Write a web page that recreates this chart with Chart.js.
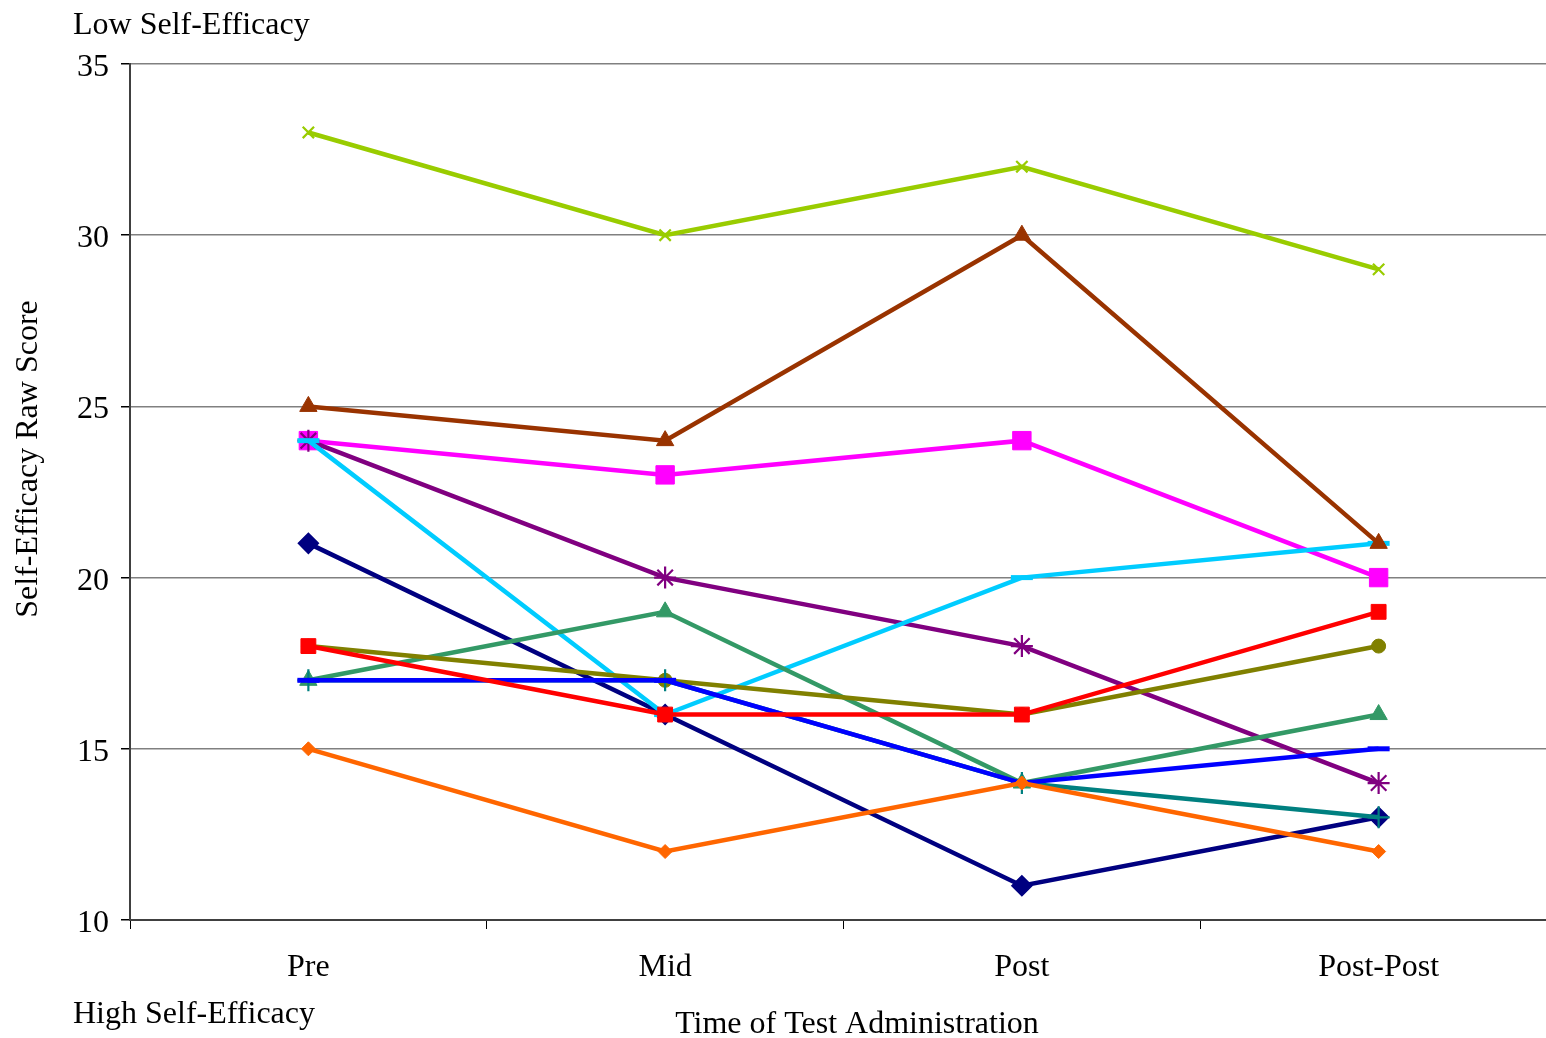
<!DOCTYPE html>
<html>
<head>
<meta charset="utf-8">
<title>Self-Efficacy Raw Score by Time of Test Administration</title>
<script src="https://cdn.jsdelivr.net/npm/chart.js@4/dist/chart.umd.min.js"></script>
<style>
  html, body { margin: 0; padding: 0; background: #ffffff; overflow: hidden; }
  #wrap { width: 1573px; height: 1038px; }
  #chart { display: block; }
</style>
</head>
<body>
<div id="wrap"><canvas id="chart" width="1573" height="1038" style="width:1573px;height:1038px"></canvas></div>
<script>
// Test administrations
const categories = ['Pre', 'Mid', 'Post', 'Post-Post'];

// Raw self-efficacy scores, one array per participant
const navyScores        = [21, 16, 11, 13];
const magentaScores     = [24, 23, 24, 20];
const purpleScores      = [24, 20, 18, 14];
const cyanScores        = [24, 16, 20, 21];
const greenScores       = [17, 19, 14, 16];
const oliveScores       = [18, 17, 16, 18];
const tealScores        = [17, 17, 14, 13];
const blueScores        = [17, 17, 14, 15];
const redScores         = [18, 16, 16, 19];
const orangeScores      = [15, 12, 14, 12];
const brownScores       = [25, 24, 30, 21];
const yellowGreenScores = [33, 30, 32, 29];

// Y axis range and tick spacing
const yMin = 10;
const yMax = 35;
const yStep = 5;

const SERIF = '"Liberation Serif", "Times New Roman", serif';

// Series listed bottom-most first
const seriesList = [
  { data: navyScores,        color: '#000080', style: 'rectRot',  r: 10,  bw: 1.5 },
  { data: magentaScores,     color: '#FF00FF', style: 'rect',     r: 13,  bw: 1 },
  { data: purpleScores,      color: '#800080', style: 'star',     r: 11,  bw: 2.2 },
  { data: cyanScores,        color: '#00CCFF', style: 'line',     r: 11,  bw: 5 },
  { data: greenScores,       color: '#339966', style: 'triangle', r: 10,  bw: 1 },
  { data: oliveScores,       color: '#808000', style: 'circle',   r: 7,   bw: 1 },
  { data: tealScores,        color: '#008080', style: 'cross',    r: 11,  bw: 2.2 },
  { data: blueScores,        color: '#0000FF', style: 'line',     r: 11,  bw: 5 },
  { data: redScores,         color: '#FF0000', style: 'rect',     r: 10.5, bw: 1 },
  { data: orangeScores,      color: '#FF6600', style: 'rectRot',  r: 7,   bw: 1 },
  { data: brownScores,       color: '#993300', style: 'triangle', r: 10,  bw: 1 },
  { data: yellowGreenScores, color: '#99CC00', style: 'crossRot', r: 8,   bw: 2.2 }
];

const datasets = seriesList.map((s, i) => ({
  data: s.data,
  borderColor: s.color,
  backgroundColor: s.color,
  borderWidth: 4.5,
  pointStyle: s.style,
  pointRadius: s.r,
  pointBorderWidth: s.bw,
  pointBorderColor: s.color,
  pointBackgroundColor: s.color,
  tension: 0,
  fill: false,
  order: seriesList.length - i
}));

// Text: tick labels, axis titles and the two scale-end notes
const textPlugin = {
  id: 'chartText',
  afterDraw(chart) {
    const ctx = chart.ctx;
    const xs = chart.scales.x;
    const ys = chart.scales.y;
    ctx.save();
    ctx.fillStyle = '#000000';
    ctx.font = '32px ' + SERIF;
    ctx.textBaseline = 'alphabetic';

    // y tick labels
    ctx.textAlign = 'right';
    ys.ticks.forEach(t => {
      ctx.fillText(String(t.value), ys.right - 21, ys.getPixelForValue(t.value) + 12);
    });

    // x tick labels
    ctx.textAlign = 'center';
    categories.forEach((c, i) => {
      ctx.fillText(c, xs.getPixelForTick(i), chart.chartArea.bottom + 56);
    });

    // x axis title
    ctx.fillText('Time of Test Administration', 857, 1033);

    // scale-end notes
    ctx.textAlign = 'left';
    ctx.fillText('Low Self-Efficacy', 73, 34);
    ctx.fillText('High Self-Efficacy', 73, 1023);

    // y axis title
    ctx.save();
    ctx.translate(37, 459);
    ctx.rotate(-Math.PI / 2);
    ctx.textAlign = 'center';
    ctx.fillText('Self-Efficacy Raw Score', 0, 0);
    ctx.restore();

    ctx.restore();
  }
};

new Chart(document.getElementById('chart'), {
  type: 'line',
  data: { labels: categories, datasets },
  plugins: [textPlugin],
  options: {
    responsive: false,
    animation: false,
    devicePixelRatio: 1,
    layout: { padding: { top: 64, right: 4, left: 0, bottom: 0 } },
    plugins: { legend: { display: false }, tooltip: { enabled: false } },
    scales: {
      x: {
        type: 'category',
        offset: true,
        grid: {
          offset: true,
          drawOnChartArea: false,
          drawTicks: true,
          tickLength: 9,
          tickColor: '#000000',
          lineWidth: 1
        },
        border: { display: true, color: '#404040', width: 2 },
        ticks: { display: false },
        afterFit(scale) { scale.height = 118; }
      },
      y: {
        min: yMin,
        max: yMax,
        ticks: { display: false, stepSize: yStep },
        grid: {
          color: '#808080',
          lineWidth: 1.5,
          drawTicks: true,
          tickLength: 9,
          tickColor: '#000000'
        },
        border: { display: true, color: '#404040', width: 2 },
        afterFit(scale) { scale.width = 130; }
      }
    }
  }
});
</script>
</body>
</html>
